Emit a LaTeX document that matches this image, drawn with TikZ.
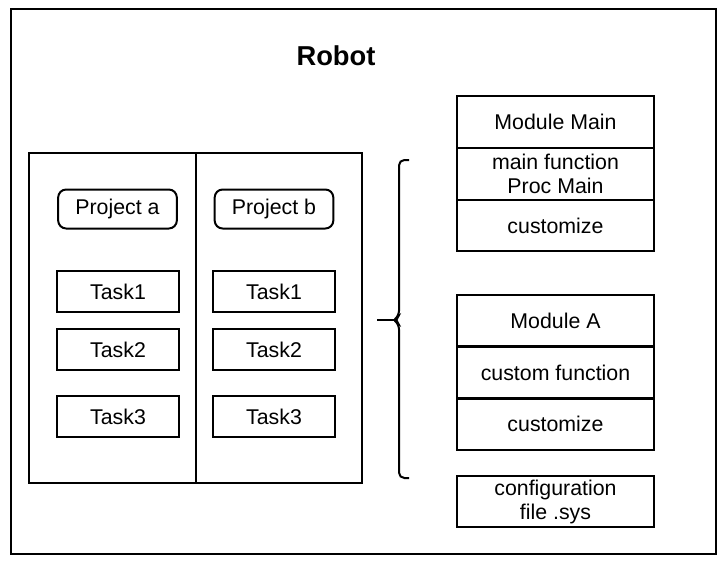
\documentclass[tikz,border=0pt]{standalone}
\usepackage{fontspec}
\setmainfont{Liberation Sans}

\begin{document}
\begin{tikzpicture}[x=0.75pt, y=-0.75pt, line width=1.5pt,
    txt/.style={font=\fontsize{16}{18}\selectfont, align=center, inner sep=0pt},
    proj/.style={txt, draw, rounded corners=6pt, minimum width=89pt, minimum height=29.25pt},
    task/.style={txt, draw, minimum width=91.5pt, minimum height=30.75pt},
    layer/.style={txt, draw, minimum width=147.75pt, minimum height=38.75pt}]
    \useasboundingbox (0,0) rectangle (726,562);
    \draw (11,9) rectangle (716,554);
    \node[font=\bfseries\fontsize{20.5}{24}\selectfont] (robot) at (336,56) {Robot};
    \draw (29,153) rectangle (362,483);
    \draw (196,153) -- (196,483);
    \node[proj] (pa) at (117.5,209) {Project a};
    \node[proj] (pb) at (274,209) {Project b};
    \node[task] (a1) at (118,291.5) {Task1};
    \node[task] (a2) at (118,349.5) {Task2};
    \node[task] (a3) at (118,416.5) {Task3};
    \node[task] (b1) at (274,291.5) {Task1};
    \node[task] (b2) at (274,349.5) {Task2};
    \node[task] (b3) at (274,416.5) {Task3};
    \node[layer] (mm) at (555.5,122) {Module Main};
    \node[layer] (mf) at (555.5,174) {main function\\Proc Main};
    \node[layer] (mc) at (555.5,225.5) {customize};
    \node[layer] (ma) at (555.5,320.5) {Module A};
    \node[layer] (af) at (555.5,373) {custom function};
    \node[layer] (ac) at (555.5,424) {customize};
    \node[layer] (cfg) at (555.5,501.5) {configuration\\file .sys};
    \draw[rounded corners=4pt] (409,160) -- (399,160) -- (399,316) -- (394,320)
        -- (399,324) -- (399,478) -- (409,478);
    \coordinate (stem) at (377,320);
    \coordinate (tip) at (395,320);
    \draw (stem) -- (tip);
\end{tikzpicture}
\end{document}
